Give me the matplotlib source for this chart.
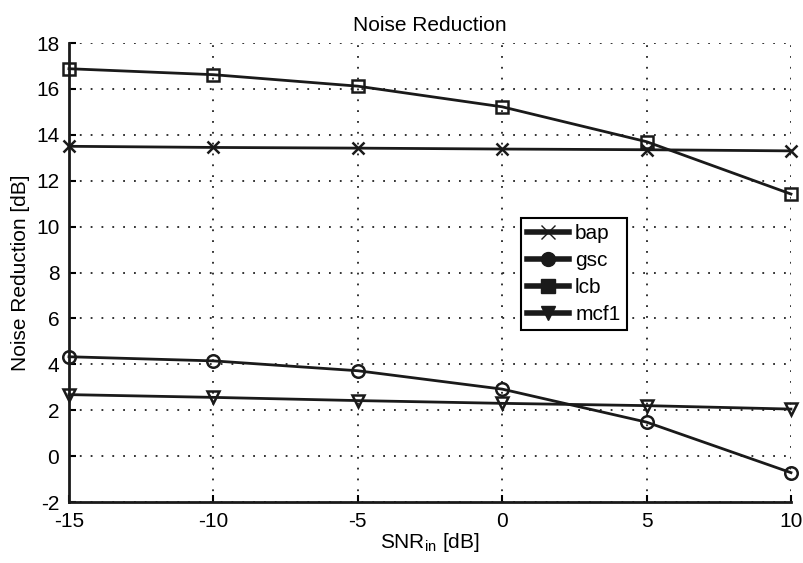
import numpy as np
import matplotlib
matplotlib.use("Agg")
import matplotlib.pyplot as plt
from matplotlib.lines import Line2D

plt.rcParams["font.family"] = ["Liberation Sans", "DejaVu Sans"]
plt.rcParams["font.size"] = 15
plt.rcParams["axes.unicode_minus"] = False

snr = [-15, -10, -5, 0, 5, 10]
bap = [13.5, 13.45, 13.42, 13.38, 13.35, 13.3]
gsc = [4.33, 4.15, 3.72, 2.92, 1.48, -0.72]
lcb = [16.88, 16.62, 16.12, 15.22, 13.7, 11.42]
mcf1 = [2.68, 2.56, 2.42, 2.3, 2.2, 2.05]

series = [("bap", bap, "x"), ("gsc", gsc, "o"), ("lcb", lcb, "s"), ("mcf1", mcf1, "v")]

fig = plt.figure(figsize=(8.04, 5.63), dpi=100)
ax = fig.add_axes([0.0858, 0.1083, 0.898, 0.8153])

for name, vals, mk in series:
    ax.plot(snr, vals, color="#1a1a1a", linewidth=2, marker=mk, markersize=9,
            markerfacecolor="none", markeredgecolor="#1a1a1a", markeredgewidth=1.8,
            label=name, clip_on=False, zorder=3)

ax.set_xlim(-15, 10)
ax.set_ylim(-2, 18)
ax.set_xticks(np.arange(-15, 11, 5))
ax.set_yticks(np.arange(-2, 19, 2))
ax.grid(True, color="#222222", linestyle=(0, (1, 5)), linewidth=1.3)
ax.spines["top"].set_visible(False)
ax.spines["right"].set_visible(False)
ax.tick_params(direction="in", length=5, width=1.5, labelsize=15, pad=7)
for sp in ("left", "bottom"):
    ax.spines[sp].set_linewidth(2)
    ax.spines[sp].set_color("#1a1a1a")

ax.set_title("Noise Reduction", fontsize=15, pad=9)
ax.set_xlabel("SNR$_{\\mathregular{in}}$ [dB]", fontsize=15, labelpad=0)
ax.set_ylabel("Noise Reduction [dB]", fontsize=15, labelpad=4)

handles = [Line2D([], [], color="#1a1a1a", linewidth=4, marker=mk, markersize=10,
                  markerfacecolor="#1a1a1a", markeredgecolor="#1a1a1a")
           for _, _, mk in series]
leg = ax.legend(handles, [s[0] for s in series], loc="upper left",
                bbox_to_anchor=(0.626, 0.619), fontsize=15, handlelength=2.0,
                frameon=True, fancybox=False, edgecolor="black", framealpha=1,
                borderpad=0.3, labelspacing=0.38, handletextpad=0.3,
                borderaxespad=0)
leg.get_frame().set_linewidth(1.5)

fig.savefig("out.png", dpi=100)
